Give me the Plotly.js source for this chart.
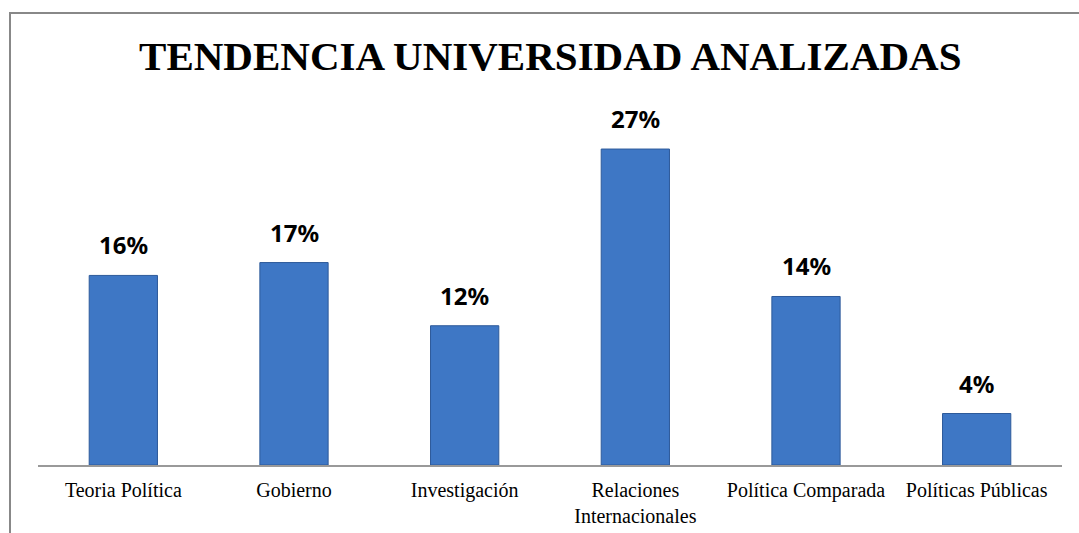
<!DOCTYPE html>
<html>
<head>
<meta charset="utf-8">
<script src="https://cdn.plot.ly/plotly-3.0.1.min.js"></script>
<style>
  html, body { margin: 0; padding: 0; background: #fff; }
  #wrap { position: relative; width: 1079px; height: 533px; overflow: hidden; }
  #frame { position: absolute; left: 9px; top: 12px; width: 1200px; height: 600px;
           border-left: 2px solid #888; border-top: 2px solid #888; pointer-events: none; }
  #chart { position: absolute; left: 0; top: 0; width: 1079px; height: 533px; }
</style>
</head>
<body>
<div id="wrap">
  <div id="chart"></div>
  <div id="frame"></div>
</div>
<script>
const categories = ["Teoria Política", "Gobierno", "Investigación", "Relaciones<br>Internacionales", "Política Comparada", "Políticas Públicas"];
const values = [16.2, 17.3, 11.9, 27.0, 14.4, 4.4];
const labels = values.map(v => Math.round(v) + "%");

const trace = {
  type: "bar",
  x: categories,
  y: values,
  marker: { color: "#3E77C5", line: { color: "#2D5A9A", width: 1 } },
  hoverinfo: "skip"
};

const annotations = categories.map((c, i) => ({
  x: c, y: values[i], text: "<b>" + labels[i] + "</b>",
  xref: "x", yref: "y", showarrow: false, yanchor: "bottom", yshift: 12,
  font: { family: "Noto Sans, Liberation Sans, sans-serif", size: 24, color: "#000" }
}));

const layout = {
  width: 1079, height: 533,
  margin: { l: 38, r: 17, t: 80, b: 68 },
  paper_bgcolor: "rgba(0,0,0,0)", plot_bgcolor: "rgba(0,0,0,0)",
  title: {
    text: "<b>TENDENCIA UNIVERSIDAD ANALIZADAS</b>",
    x: 0.51, xanchor: "center", y: 0.895, yanchor: "middle",
    font: { family: "Liberation Serif, Times New Roman, serif", size: 41, color: "#000" }
  },
  bargap: 0.6,
  showlegend: false,
  xaxis: {
    showline: true, linecolor: "#999", linewidth: 1.5,
    ticks: "", showgrid: false, zeroline: false,
    tickfont: { family: "Liberation Serif, Times New Roman, serif", size: 20, color: "#000" },
    ticklabelstandoff: 6
  },
  yaxis: {
    range: [0, 32.9], visible: false, showgrid: false, zeroline: false
  },
  annotations: annotations
};

Plotly.newPlot("chart", [trace], layout, { staticPlot: true, displayModeBar: false });
</script>
</body>
</html>
